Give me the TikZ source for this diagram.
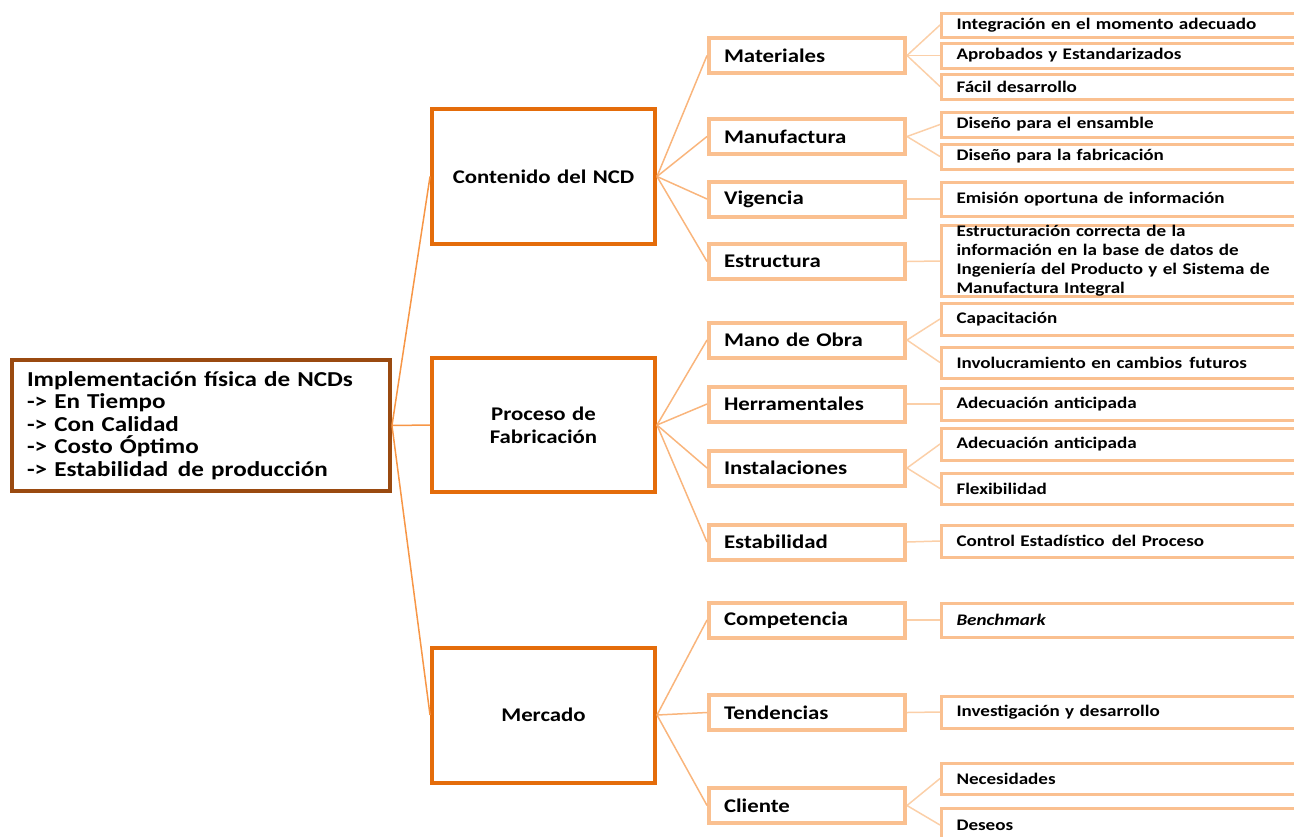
\documentclass[tikz,border=0pt]{standalone}
\usepackage{fontspec}
\setmainfont{Carlito}[FakeStretch=1.18]
\definecolor{rootc}{HTML}{9A4A10}
\definecolor{catc}{HTML}{E46C0A}
\definecolor{subc}{HTML}{FAC090}
\definecolor{linkA}{HTML}{F79646}
\definecolor{linkB}{HTML}{F9B57C}
\definecolor{linkC}{HTML}{FBCFA8}
\newcommand{\widesp}{\hspace{0.45em}}
\begin{document}
\begin{tikzpicture}[x=0.02cm,y=-0.02cm,
  rootbox/.style={draw=rootc, line width=0.08cm, fill=white, minimum width=7.56cm,
    minimum height=2.62cm, text width=6.96cm, inner xsep=0.3cm, align=left,
    font=\bfseries\fontsize{12.1}{12.8}\selectfont},
  catbox/.style={draw=catc, line width=0.08cm, fill=white, minimum width=4.46cm,
    minimum height=2.7cm, text width=3.86cm, inner xsep=0.3cm, align=center,
    font=\bfseries\fontsize{11}{13}\selectfont},
  subbox/.style={draw=subc, line width=0.08cm, fill=white, minimum width=3.92cm,
    minimum height=0.7cm, text width=3.32cm, inner xsep=0.3cm, inner ysep=0pt, align=left,
    font=\bfseries\fontsize{11}{13}\selectfont},
  leafbox/.style={draw=subc, line width=0.06cm, fill=white, minimum width=7.4cm,
    text width=6.8cm, inner xsep=0.3cm, inner ysep=0pt, align=left, anchor=west,
    font=\bfseries\fontsize{9.2}{10.8}\selectfont},
  linkroot/.style={draw=linkA, line width=0.03cm},
  linkcat/.style={draw=linkB, line width=0.03cm},
  linksub/.style={draw=linkC, line width=0.03cm}
]
\useasboundingbox (0,0) rectangle (1294,836);

% root
\node[rootbox] (root) at (201,425.5) {Implementación física de NCDs\\-> En Tiempo\\-> Con Calidad\\-> Costo Óptimo\\-> Estabilidad\widesp de producción};

% categories
\node[catbox] (cont) at (543.5,176.5) {Contenido del NCD};
\node[catbox] (proc) at (543.5,425) {Proceso de\\Fabricación};
\node[catbox] (merc) at (543.5,715) {Mercado};

% sub-topics
\node[subbox] (mat)  at (807,55.5)  {Materiales};
\node[subbox] (man)  at (807,136.5) {Manufactura};
\node[subbox] (vig)  at (807,199)   {Vigencia};
\node[subbox] (est)  at (807,261.5) {Estructura};
\node[subbox] (mano) at (807,340)   {Mano de Obra};
\node[subbox] (her)  at (807,404)   {Herramentales};
\node[subbox] (ins)  at (807,468)   {Instalaciones};
\node[subbox] (stab) at (807,542)   {Estabilidad};
\node[subbox] (comp) at (807,620)   {Competencia};
\node[subbox] (tend) at (807,712.5) {Tendencias};
\node[subbox] (cli)  at (807,805.5) {Cliente};

% leaves (their right ends run off the page)
\node[leafbox, minimum height=0.48cm] (l1)  at (940,25)    {Integración en el momento adecuado};
\node[leafbox, minimum height=0.5cm]  (l2)  at (940,55.5)  {Aprobados y Estandarizados};
\node[leafbox, minimum height=0.5cm]  (l3)  at (940,86.5)  {Fácil desarrollo};
\node[leafbox, minimum height=0.5cm]  (l4)  at (940,124.5) {Diseño para el ensamble};
\node[leafbox, minimum height=0.5cm]  (l5)  at (940,156.5) {Diseño para la fabricación};
\node[leafbox, minimum height=0.68cm] (l6)  at (940,199)   {Emisión oportuna de información};
\node[leafbox, minimum height=1.4cm]  (l7)  at (940,261)   {Estructuración correcta de la\\información en la base de datos de\\Ingeniería del Producto y el Sistema de\\Manufactura Integral};
\node[leafbox, minimum height=0.64cm] (l8)  at (940,319)   {Capacitación};
\node[leafbox, minimum height=0.62cm] (l9)  at (940,362.5) {Involucramiento en cambios\widesp futuros};
\node[leafbox, minimum height=0.64cm] (l10) at (940,404)   {Adecuación anticipada};
\node[leafbox, minimum height=0.64cm] (l11) at (940,444)   {Adecuación anticipada};
\node[leafbox, minimum height=0.62cm] (l12) at (940,488.5) {Flexibilidad};
\node[leafbox, minimum height=0.64cm] (l13) at (940,541)   {Control Estadístico\widesp del Proceso};
\node[leafbox, minimum height=0.68cm] (l14) at (940,620)   {\textit{Benchmark}};
\node[leafbox, minimum height=0.64cm] (l15) at (940,712)   {Investigación y desarrollo};
\node[leafbox, minimum height=0.62cm] (l16) at (940,778.5) {Necesidades};
\node[leafbox, minimum height=0.68cm] (l17) at (940,825)   {Deseos};

% connectors: root to categories
\foreach \c in {cont,proc,merc}
  \draw[linkroot] (root.east) -- (\c.west);
% categories to sub-topics
\foreach \s in {mat,man,vig,est}
  \draw[linkcat] (cont.east) -- (\s.west);
\foreach \s in {mano,her,ins,stab}
  \draw[linkcat] (proc.east) -- (\s.west);
\foreach \s in {comp,tend,cli}
  \draw[linkcat] (merc.east) -- (\s.west);
% sub-topics to leaves
\foreach \a/\b in {mat/l1,mat/l2,mat/l3,man/l4,man/l5,vig/l6,est/l7,mano/l8,mano/l9,
                   her/l10,ins/l11,ins/l12,stab/l13,comp/l14,tend/l15,cli/l16,cli/l17}
  \draw[linksub] (\a.east) -- (\b.west);
\end{tikzpicture}
\end{document}
